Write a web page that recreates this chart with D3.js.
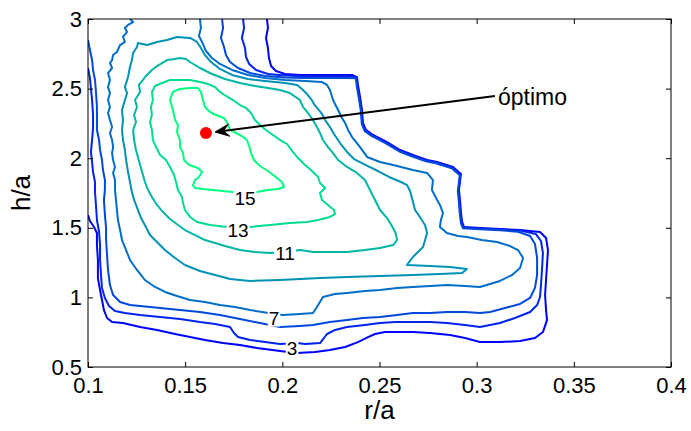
<!DOCTYPE html>
<html><head><meta charset="utf-8">
<script src="https://cdn.jsdelivr.net/npm/d3@7"></script>
<style>body{margin:0;background:#fff} svg{display:block;font-family:Arial,"Liberation Sans",sans-serif}</style>
</head><body><svg id="c" width="691" height="431"></svg>
<script>
// ---- data ----
const xTicks = [0.1, 0.15, 0.2, 0.25, 0.3, 0.35, 0.4];
const xTickLabels = ["0.1", "0.15", "0.2", "0.25", "0.3", "0.35", "0.4"];
const yTicks = [0.5, 1, 1.5, 2, 2.5, 3];
const yTickLabels = ["0.5", "1", "1.5", "2", "2.5", "3"];
const levels = [1, 3, 5, 7, 9, 11, 13, 15];

const contour15 = [[.1437,2.346],[.1422,2.418],[.1437,2.476],[.1473,2.497],[.1525,2.504],[.1566,2.504],[.1581,2.476],[.1592,2.418],[.1602,2.368],[.1628,2.332],[.1659,2.310],[.1700,2.289],[.1720,2.246],[.1731,2.203],[.1762,2.181],[.1792,2.159],[.1818,2.131],[.1829,2.088],[.1839,2.037],[.1854,1.987],[.1885,1.944],[.1926,1.908],[.1967,1.865],[.1998,1.829],[.2009,1.793],[.1978,1.779],[.1926,1.772],[.1870,1.757],[.1746,1.757],[.1695,1.764],[.1643,1.772],[.1592,1.779],[.1551,1.786],[.1540,1.807],[.1551,1.843],[.1571,1.865],[.1587,1.901],[.1566,1.930],[.1520,1.951],[.1494,1.987],[.1489,2.037],[.1473,2.080],[.1473,2.131],[.1458,2.188],[.1463,2.239],[.1448,2.274],[.1437,2.346]];
const contour13 = [[.1329,2.203],[.1319,2.260],[.1329,2.310],[.1324,2.368],[.1334,2.418],[.1329,2.476],[.1345,2.519],[.1381,2.540],[.1422,2.562],[.1473,2.562],[.1525,2.562],[.1576,2.547],[.1618,2.533],[.1654,2.511],[.1679,2.476],[.1710,2.447],[.1746,2.418],[.1782,2.382],[.1813,2.361],[.1839,2.325],[.1859,2.274],[.1885,2.239],[.1916,2.203],[.1952,2.167],[.1988,2.131],[.2024,2.102],[.2050,2.052],[.2081,2.001],[.2117,1.951],[.2153,1.908],[.2184,1.865],[.2194,1.822],[.2220,1.786],[.2194,1.750],[.2204,1.700],[.2235,1.664],[.2266,1.628],[.2271,1.599],[.2245,1.578],[.2184,1.556],[.2127,1.542],[.2039,1.534],[.1937,1.520],[.1834,1.506],[.1715,1.506],[.1628,1.520],[.1561,1.542],[.1525,1.578],[.1499,1.628],[.1489,1.678],[.1484,1.721],[.1463,1.772],[.1453,1.829],[.1443,1.879],[.1422,1.937],[.1401,1.987],[.1371,2.023],[.1350,2.080],[.1334,2.131],[.1329,2.203]];
const contour11 = [[.1232,2.203],[.1247,2.260],[.1237,2.310],[.1252,2.368],[.1242,2.418],[.1268,2.476],[.1262,2.526],[.1283,2.562],[.1298,2.591],[.1329,2.634],[.1355,2.662],[.1407,2.705],[.1448,2.713],[.1473,2.720],[.1504,2.713],[.1525,2.691],[.1576,2.648],[.1638,2.605],[.1705,2.569],[.1782,2.540],[.1859,2.519],[.1926,2.504],[.1988,2.490],[.2039,2.468],[.2091,2.418],[.2106,2.368],[.2132,2.325],[.2158,2.274],[.2178,2.224],[.2194,2.181],[.2209,2.131],[.2235,2.080],[.2261,2.037],[.2287,1.987],[.2333,1.937],[.2384,1.894],[.2425,1.843],[.2451,1.772],[.2477,1.700],[.2503,1.628],[.2539,1.570],[.2564,1.513],[.2585,1.455],[.2590,1.412],[.2570,1.376],[.2503,1.355],[.2425,1.340],[.2333,1.326],[.2245,1.326],[.2158,1.326],[.2091,1.340],[.2014,1.326],[.1937,1.319],[.1859,1.326],[.1782,1.340],[.1705,1.369],[.1654,1.391],[.1602,1.412],[.1551,1.448],[.1499,1.484],[.1463,1.520],[.1422,1.563],[.1386,1.613],[.1355,1.664],[.1329,1.721],[.1309,1.772],[.1293,1.829],[.1283,1.879],[.1268,1.951],[.1257,2.009],[.1247,2.059],[.1237,2.131],[.1232,2.203]];
const contour9 = [[.1175,2.203],[.1180,2.274],[.1175,2.346],[.1190,2.418],[.1201,2.468],[.1190,2.511],[.1206,2.583],[.1216,2.655],[.1226,2.705],[.1232,2.756],[.1252,2.799],[.1257,2.828],[.1304,2.813],[.1355,2.835],[.1407,2.849],[.1458,2.871],[.1525,2.864],[.1561,2.835],[.1581,2.792],[.1602,2.741],[.1633,2.691],[.1679,2.641],[.1741,2.598],[.1823,2.569],[.1911,2.555],[.2014,2.540],[.2076,2.526],[.2101,2.497],[.2127,2.461],[.2148,2.425],[.2163,2.389],[.2184,2.353],[.2204,2.318],[.2220,2.274],[.2245,2.224],[.2266,2.174],[.2297,2.109],[.2333,2.045],[.2369,1.994],[.2430,1.951],[.2492,1.908],[.2549,1.865],[.2611,1.829],[.2642,1.807],[.2657,1.764],[.2667,1.714],[.2683,1.628],[.2708,1.578],[.2734,1.520],[.2745,1.463],[.2724,1.362],[.2672,1.290],[.2642,1.233],[.2760,1.226],[.2863,1.218],[.2950,1.204],[.2925,1.175],[.2811,1.168],[.2672,1.161],[.2503,1.154],[.2333,1.147],[.2194,1.139],[.2091,1.132],[.1988,1.125],[.1834,1.118],[.1731,1.132],[.1654,1.161],[.1576,1.190],[.1499,1.233],[.1448,1.283],[.1396,1.340],[.1360,1.391],[.1319,1.448],[.1298,1.506],[.1273,1.570],[.1257,1.628],[.1237,1.700],[.1226,1.757],[.1216,1.829],[.1206,1.901],[.1196,1.987],[.1190,2.059],[.1180,2.131],[.1175,2.203]];
const contour7 = [[.1216,3.000],[.1232,2.978],[.1206,2.957],[.1190,2.935],[.1201,2.907],[.1180,2.871],[.1190,2.835],[.1165,2.813],[.1149,2.763],[.1129,2.741],[.1124,2.705],[.1113,2.684],[.1124,2.648],[.1103,2.612],[.1113,2.562],[.1103,2.511],[.1113,2.468],[.1103,2.418],[.1113,2.368],[.1103,2.325],[.1113,2.274],[.1124,2.224],[.1113,2.181],[.1124,2.131],[.1129,2.080],[.1124,2.037],[.1129,1.987],[.1139,1.937],[.1129,1.894],[.1139,1.843],[.1139,1.772],[.1144,1.700],[.1149,1.628],[.1154,1.556],[.1165,1.484],[.1175,1.412],[.1196,1.340],[.1216,1.269],[.1252,1.197],[.1293,1.125],[.1345,1.075],[.1396,1.039],[.1458,1.010],[.1525,0.981],[.1602,0.967],[.1679,0.945],[.1756,0.931],[.1834,0.909],[.1896,0.895],[.1957,0.881],[.2003,0.873],[.2091,0.881],[.2158,0.888],[.2178,0.931],[.2209,1.003],[.2271,1.024],[.2333,1.032],[.2425,1.046],[.2503,1.053],[.2590,1.068],[.2672,1.075],[.2760,1.082],[.2847,1.089],[.2940,1.082],[.3017,1.075],[.3120,1.118],[.3182,1.161],[.3223,1.211],[.3239,1.283],[.3213,1.340],[.3172,1.369],[.3105,1.398],[.3027,1.412],[.2950,1.434],[.2904,1.441],[.2847,1.463],[.2811,1.506],[.2816,1.556],[.2827,1.606],[.2811,1.664],[.2791,1.714],[.2770,1.772],[.2775,1.843],[.2745,1.894],[.2672,1.915],[.2570,1.951],[.2503,1.973],[.2436,2.009],[.2400,2.080],[.2359,2.152],[.2338,2.203],[.2323,2.253],[.2307,2.289],[.2287,2.346],[.2271,2.389],[.2261,2.418],[.2245,2.490],[.2230,2.526],[.2204,2.547],[.2117,2.555],[.2014,2.562],[.1911,2.576],[.1823,2.598],[.1741,2.634],[.1679,2.677],[.1638,2.720],[.1607,2.770],[.1592,2.820],[.1571,2.878],[.1581,2.935],[.1576,3.000]];
const contour5 = [[.1690,3.000],[.1695,2.935],[.1684,2.864],[.1700,2.799],[.1710,2.741],[.1731,2.691],[.1772,2.648],[.1834,2.612],[.1911,2.591],[.2014,2.580],[.2117,2.576],[.2245,2.576],[.2328,2.576],[.2378,2.574],[.2383,2.517],[.2394,2.431],[.2404,2.337],[.2409,2.244],[.2424,2.194],[.2461,2.158],[.2533,2.107],[.2600,2.050],[.2666,2.014],[.2739,1.978],[.2790,1.964],[.2872,1.928],[.2913,1.878],[.2908,1.820],[.2903,1.763],[.2908,1.691],[.2913,1.604],[.2919,1.533],[.2929,1.497],[.3017,1.490],[.3120,1.482],[.3213,1.472],[.3275,1.441],[.3300,1.384],[.3311,1.283],[.3311,1.161],[.3300,1.068],[.3275,0.996],[.3223,0.953],[.3146,0.924],[.3069,0.895],[.3017,0.888],[.2940,0.895],[.2847,0.895],[.2760,0.888],[.2672,0.888],[.2590,0.873],[.2503,0.859],[.2415,0.852],[.2333,0.837],[.2245,0.823],[.2158,0.802],[.2091,0.795],[.1988,0.787],[.1885,0.816],[.1782,0.845],[.1679,0.873],[.1576,0.895],[.1473,0.909],[.1371,0.924],[.1268,0.938],[.1216,0.945],[.1165,0.967],[.1129,1.017],[.1113,1.089],[.1103,1.197],[.1098,1.305],[.1093,1.412],[.1093,1.499],[.1087,1.592],[.1082,1.700],[.1087,1.772],[.1087,1.843],[.1077,1.915],[.1072,1.987],[.1062,2.059],[.1057,2.131],[.1046,2.203],[.1046,2.289],[.1046,2.368],[.1041,2.476],[.1036,2.562],[.1026,2.634],[.1021,2.705],[.1010,2.777],[.1000,2.849]];
const contour3 = [[.1798,3.000],[.1803,2.935],[.1792,2.864],[.1808,2.792],[.1813,2.727],[.1829,2.677],[.1865,2.634],[.1926,2.605],[.2014,2.594],[.2117,2.588],[.2245,2.588],[.2348,2.588],[.2381,2.579],[.2386,2.522],[.2397,2.436],[.2407,2.342],[.2412,2.249],[.2427,2.199],[.2464,2.163],[.2536,2.112],[.2603,2.055],[.2669,2.019],[.2742,1.983],[.2793,1.969],[.2875,1.933],[.2916,1.883],[.2911,1.825],[.2906,1.768],[.2911,1.696],[.2916,1.609],[.2922,1.538],[.2932,1.502],[.3017,1.495],[.3120,1.487],[.3223,1.480],[.3305,1.455],[.3331,1.405],[.3341,1.319],[.3336,1.197],[.3331,1.089],[.3326,1.003],[.3311,0.945],[.3275,0.895],[.3197,0.852],[.3120,0.816],[.3017,0.787],[.2940,0.802],[.2847,0.816],[.2760,0.823],[.2672,0.823],[.2580,0.823],[.2503,0.816],[.2425,0.802],[.2333,0.787],[.2271,0.766],[.2230,0.737],[.2194,0.672],[.2117,0.665],[.2076,0.672],[.1988,0.665],[.1911,0.679],[.1834,0.694],[.1772,0.715],[.1751,0.744],[.1731,0.787],[.1654,0.809],[.1576,0.823],[.1473,0.845],[.1371,0.859],[.1268,0.873],[.1190,0.888],[.1139,0.902],[.1108,0.938],[.1087,0.996],[.1072,1.068],[.1067,1.161],[.1062,1.269],[.1062,1.376],[.1057,1.470],[.1046,1.556],[.1041,1.664],[.1036,1.757],[.1036,1.829],[.1026,1.901],[.1021,1.973],[.1015,2.045],[.1021,2.131],[.1026,2.217],[.1026,2.310],[.1021,2.418],[.1015,2.504],[.1010,2.576],[.1000,2.648]];
const contour1 = [[.1921,3.000],[.1926,2.935],[.1916,2.864],[.1926,2.792],[.1931,2.720],[.1942,2.662],[.1967,2.626],[.2014,2.605],[.2091,2.598],[.2194,2.598],[.2297,2.598],[.2359,2.598],[.2384,2.583],[.2389,2.526],[.2400,2.440],[.2410,2.346],[.2415,2.253],[.2430,2.203],[.2467,2.167],[.2539,2.116],[.2606,2.059],[.2672,2.023],[.2745,1.987],[.2796,1.973],[.2878,1.937],[.2919,1.887],[.2914,1.829],[.2909,1.772],[.2914,1.700],[.2919,1.613],[.2925,1.542],[.2935,1.506],[.3017,1.499],[.3120,1.491],[.3223,1.484],[.3326,1.470],[.3357,1.427],[.3367,1.340],[.3362,1.233],[.3357,1.125],[.3352,1.017],[.3357,0.909],[.3362,0.837],[.3341,0.751],[.3300,0.708],[.3223,0.687],[.3120,0.679],[.3017,0.679],[.2940,0.708],[.2863,0.730],[.2760,0.744],[.2672,0.751],[.2580,0.751],[.2528,0.751],[.2477,0.737],[.2441,0.715],[.2389,0.679],[.2323,0.644],[.2245,0.622],[.2168,0.608],[.2076,0.601],[.1988,0.615],[.1870,0.636],[.1782,0.658],[.1695,0.672],[.1602,0.694],[.1525,0.715],[.1448,0.737],[.1355,0.766],[.1268,0.787],[.1180,0.816],[.1124,0.823],[.1098,0.852],[.1082,0.909],[.1072,0.981],[.1062,1.053],[.1051,1.139],[.1051,1.269],[.1046,1.376],[.1046,1.463],[.1031,1.506],[.1010,1.549],[.1000,1.592]];

const contourLines = [
  {level: 1, points: contour1}, {level: 3, points: contour3}, {level: 5, points: contour5},
  {level: 7, points: contour7}, {level: 9, points: contour9}, {level: 11, points: contour11},
  {level: 13, points: contour13}, {level: 15, points: contour15}
];
const labelTexts = ["15", "13", "11", "7", "3"];
const labelR = [0.1808, 0.1772, 0.2014, 0.1957, 0.2050];
const labelH = [1.714, 1.484, 1.312, 0.852, 0.630];
const optimum = [0.1607, 2.181];
const annotationText = "óptimo";
const annotationPos = [0.311, 2.382];
const arrowStart = [0.3094, 2.447];
const arrowEnd = [0.1654, 2.188];

// ---- drawing ----
const m = {left: 88, right: 671, top: 19, bottom: 367};
const svg = d3.select("#c");
const x = d3.scaleLinear().domain([0.1, 0.4]).range([m.left, m.right]);
const y = d3.scaleLinear().domain([0.5, 3]).range([m.bottom, m.top]);
const tcol = d3.scaleLinear().domain([d3.min(levels), d3.max(levels)]).range([0, 1]);
const winter = t => d3.rgb(0, Math.round(255 * t), Math.round(255 * (1 - 0.5 * t))).toString();

svg.append("defs").append("clipPath").attr("id", "clip")
  .append("rect").attr("x", m.left).attr("y", m.top).attr("width", m.right - m.left).attr("height", m.bottom - m.top);

const line = d3.line().x(d => x(d[0])).y(d => y(d[1]));
const g = svg.append("g").attr("clip-path", "url(#clip)");
g.selectAll("path.c").data(contourLines).join("path")
  .attr("class", "c")
  .attr("d", d => line(d.points))
  .attr("fill", "none")
  .attr("stroke", d => winter(tcol(d.level)))
  .attr("stroke-width", 2)
  .attr("stroke-linejoin", "round");

// contour labels
const lab = svg.append("g");
labelTexts.forEach((t, i) => {
  const cx = x(labelR[i]), cy = y(labelH[i]);
  const tx = lab.append("text").attr("x", cx).attr("y", cy)
    .attr("text-anchor", "middle").attr("dominant-baseline", "central")
    .attr("font-size", 19).attr("fill", "#000").text(t);
  const bb = tx.node().getBBox();
  lab.insert("rect", "text").attr("x", bb.x - 1).attr("y", bb.y + 2).attr("width", bb.width + 2).attr("height", bb.height - 4).attr("fill", "#fff");
});

// axes box
svg.append("rect").attr("x", m.left).attr("y", m.top).attr("width", m.right - m.left).attr("height", m.bottom - m.top)
  .attr("fill", "none").attr("stroke", "#000").attr("stroke-width", 1);

const fs = 22;
const xAxis = svg.append("g").attr("transform", `translate(0,${m.bottom})`)
  .call(d3.axisBottom(x).tickValues(xTicks).tickFormat((d, i) => xTickLabels[i]).tickSizeInner(-5).tickSizeOuter(0).tickPadding(10));
const xAxisTop = svg.append("g").attr("transform", `translate(0,${m.top})`)
  .call(d3.axisTop(x).tickValues(xTicks).tickFormat("").tickSizeInner(-5).tickSizeOuter(0));
const yAxis = svg.append("g").attr("transform", `translate(${m.left},0)`)
  .call(d3.axisLeft(y).tickValues(yTicks).tickFormat((d, i) => yTickLabels[i]).tickSizeInner(-5).tickSizeOuter(0).tickPadding(6));
const yAxisR = svg.append("g").attr("transform", `translate(${m.right},0)`)
  .call(d3.axisRight(y).tickValues(yTicks).tickFormat("").tickSizeInner(-5).tickSizeOuter(0));
[xAxis, xAxisTop, yAxis, yAxisR].forEach(a => {
  a.select(".domain").remove();
  a.selectAll("line").attr("stroke", "#000");
  a.selectAll("text").attr("font-size", fs).attr("font-family", "Arial, 'Liberation Sans', sans-serif").attr("fill", "#000");
});

svg.append("text").attr("x", (m.left + m.right) / 2).attr("y", 419).attr("text-anchor", "middle")
  .attr("font-size", 26).text("r/a");
svg.append("text").attr("transform", `translate(30,${(m.top + m.bottom) / 2}) rotate(-90)`).attr("text-anchor", "middle")
  .attr("font-size", 26).text("h/a");

// annotation arrow
const sx = x(arrowStart[0]), sy = y(arrowStart[1]);
const ex = x(arrowEnd[0]), ey = y(arrowEnd[1]);
const ang = Math.atan2(ey - sy, ex - sx);
const hl = 14, hw = 6;
const ux = Math.cos(ang), uy = Math.sin(ang);
const bx = ex - ux * hl, by = ey - uy * hl;
svg.append("line").attr("x1", sx).attr("y1", sy).attr("x2", ex - ux * 6).attr("y2", ey - uy * 6)
  .attr("stroke", "#000").attr("stroke-width", 2);
svg.append("path").attr("d",
  `M${ex},${ey} L${bx - uy * hw},${by + ux * hw} L${ex - ux * hl * 0.6},${ey - uy * hl * 0.6} L${bx + uy * hw},${by - ux * hw} Z`)
  .attr("fill", "#000").attr("stroke", "#000").attr("stroke-width", 1).attr("stroke-linejoin", "miter");

svg.append("text").attr("x", x(annotationPos[0])).attr("y", y(annotationPos[1]))
  .attr("font-size", 23).text(annotationText);

svg.append("circle").attr("cx", x(optimum[0])).attr("cy", y(optimum[1])).attr("r", 6).attr("fill", "#ff0000");
</script></body></html>
